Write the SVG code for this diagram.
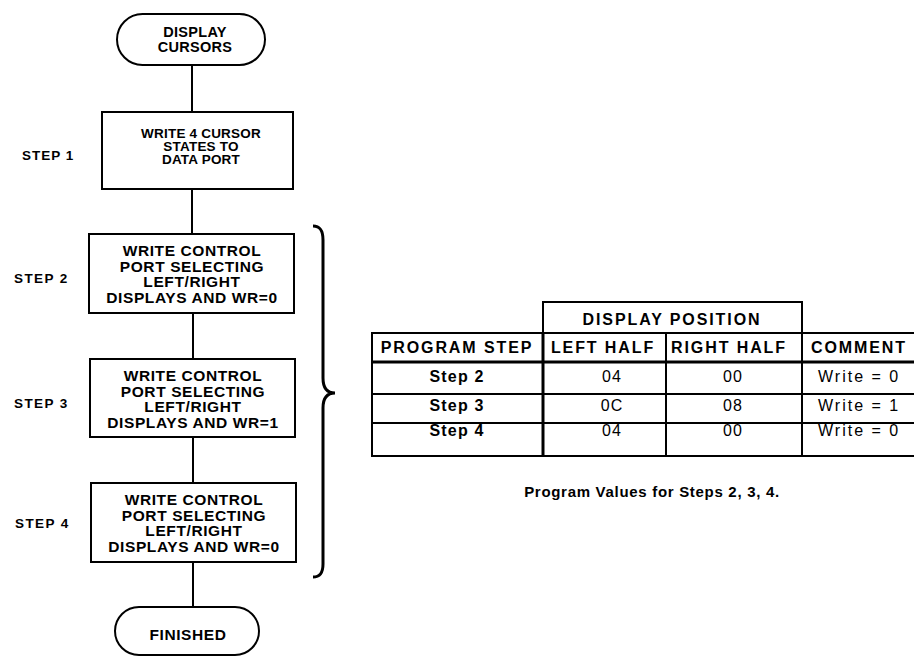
<svg xmlns="http://www.w3.org/2000/svg" width="914" height="656" viewBox="0 0 914 656">
<style>
  .shape { fill: #fff; stroke: #000; stroke-width: 2; }
  .conn { stroke: #000; stroke-width: 2; fill: none; }
  .t { font-family: "Liberation Sans", Arial, Helvetica, sans-serif; font-weight: bold; fill: #000; text-anchor: middle; }
  .box { font-size: 15.5px; letter-spacing: 0.6px; }
  .term { font-size: 14.5px; letter-spacing: 0.3px; }
  .box1 { font-size: 13.5px; letter-spacing: 0.2px; }
  .step { font-size: 13.5px; letter-spacing: 1.4px; text-anchor: start; }
  .th { font-size: 16px; letter-spacing: 1.9px; }
  .td { font-size: 16px; letter-spacing: 1.2px; }
  .tv { font-weight: normal; font-size: 16px; letter-spacing: 1px; }
  .tc { font-weight: normal; font-size: 16px; letter-spacing: 2px; text-anchor: start; }
  .grid { stroke: #000; stroke-width: 2; fill: none; }
  .thick { stroke: #000; stroke-width: 3; fill: none; }
</style>

<g id="connectors">
  <line class="conn" x1="192" y1="65" x2="192" y2="112"/>
  <line class="conn" x1="192" y1="189" x2="192" y2="234"/>
  <line class="conn" x1="193" y1="313" x2="193" y2="359"/>
  <line class="conn" x1="193" y1="437" x2="193" y2="483"/>
  <line class="conn" x1="193" y1="562" x2="193" y2="607"/>
</g>

<g id="start">
  <rect class="shape" x="117" y="14" width="148" height="51" rx="25.5" ry="25.5"/>
  <text class="t term" x="195" y="37">DISPLAY</text>
  <text class="t term" x="195" y="52">CURSORS</text>
</g>

<g id="step1">
  <rect class="shape" x="102" y="112" width="191" height="77"/>
  <text class="t box1" x="201" y="138">WRITE 4 CURSOR</text>
  <text class="t box1" x="201" y="151">STATES TO</text>
  <text class="t box1" x="201" y="164">DATA PORT</text>
  <text class="t step" x="22" y="160" style="letter-spacing:1px">STEP 1</text>
</g>

<g id="step2">
  <rect class="shape" x="89" y="234" width="205" height="79"/>
  <text class="t box" x="192" y="256">WRITE CONTROL</text>
  <text class="t box" x="192" y="272">PORT SELECTING</text>
  <text class="t box" x="192" y="287">LEFT/RIGHT</text>
  <text class="t box" x="192" y="303">DISPLAYS AND WR=0</text>
  <text class="t step" x="14" y="283">STEP 2</text>
</g>

<g id="step3">
  <rect class="shape" x="90" y="359" width="205" height="78"/>
  <text class="t box" x="193" y="381">WRITE CONTROL</text>
  <text class="t box" x="193" y="397">PORT SELECTING</text>
  <text class="t box" x="193" y="412">LEFT/RIGHT</text>
  <text class="t box" x="193" y="428">DISPLAYS AND WR=1</text>
  <text class="t step" x="14" y="408">STEP 3</text>
</g>

<g id="step4">
  <rect class="shape" x="91" y="483" width="205" height="79"/>
  <text class="t box" x="194" y="505">WRITE CONTROL</text>
  <text class="t box" x="194" y="521">PORT SELECTING</text>
  <text class="t box" x="194" y="536">LEFT/RIGHT</text>
  <text class="t box" x="194" y="552">DISPLAYS AND WR=0</text>
  <text class="t step" x="15" y="528">STEP 4</text>
</g>

<g id="finished">
  <rect class="shape" x="115" y="607" width="144" height="48" rx="24" ry="24"/>
  <text class="t box" x="188" y="640">FINISHED</text>
</g>

<g id="brace">
  <path d="M313,226 C320,226 323,230 323,240 L323,378 C323,388 327,393 335,393 C327,393 323,398 323,408 L323,564 C323,573 320,577 313,577" stroke="#000" stroke-width="3" fill="none"/>
</g>

<g id="table">
  <rect class="grid" x="543" y="302" width="259" height="31"/>
  <path class="grid" d="M916,333 H372 V456 H916"/>
  <line class="thick" x1="372" y1="362" x2="916" y2="362"/>
  <line class="grid" x1="372" y1="394" x2="916" y2="394"/>
  <line class="grid" x1="372" y1="423" x2="916" y2="423"/>
  <line class="thick" x1="543" y1="333" x2="543" y2="456"/>
  <line class="grid" x1="666" y1="333" x2="666" y2="456"/>
  <line class="grid" x1="802" y1="302" x2="802" y2="456"/>

  <text class="t th" x="672" y="325">DISPLAY POSITION</text>
  <text class="t th" x="457" y="353">PROGRAM STEP</text>
  <text class="t th" x="603" y="353">LEFT HALF</text>
  <text class="t th" x="729" y="353">RIGHT HALF</text>
  <text class="t th" x="859" y="353">COMMENT</text>

  <text class="t td" x="457" y="382">Step 2</text>
  <text class="t td" x="457" y="411">Step 3</text>
  <text class="t td" x="457" y="436">Step 4</text>

  <text class="t tv" x="612" y="382">04</text>
  <text class="t tv" x="612" y="411">0C</text>
  <text class="t tv" x="612" y="436">04</text>

  <text class="t tv" x="733" y="382">00</text>
  <text class="t tv" x="733" y="411">08</text>
  <text class="t tv" x="733" y="436">00</text>

  <text class="t tc" x="818" y="382">Write = 0</text>
  <text class="t tc" x="818" y="411">Write = 1</text>
  <text class="t tc" x="818" y="436">Write = 0</text>

  <text class="t" x="652" y="497" style="font-size:15px;letter-spacing:0.7px">Program Values for Steps 2, 3, 4.</text>
</g>
</svg>
